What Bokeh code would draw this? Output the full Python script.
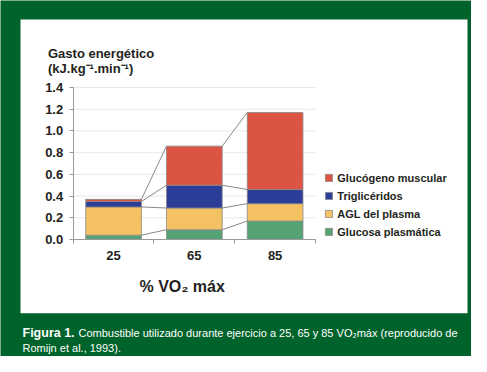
from bokeh.plotting import figure
from bokeh.models import (Range1d, FixedTicker, PrintfTickFormatter, LinearAxis,
                          BoxAnnotation, Label, Legend, LegendItem, ColumnDataSource)
from bokeh.embed import file_html
from bokeh.resources import INLINE

# ---- data ----
categories = ["25", "65", "85"]
glucosa = [0.04, 0.09, 0.17]
agl = [0.26, 0.20, 0.16]
trigliceridos = [0.05, 0.21, 0.13]
glucogeno = [0.02, 0.36, 0.71]
series_names = ["Glucosa plasmática", "AGL del plasma", "Triglicéridos", "Glucógeno muscular"]
y_ticks = [0.0, 0.2, 0.4, 0.6, 0.8, 1.0, 1.2, 1.4]

# ---- styling ----
colors = ["#55A275", "#F5C263", "#2B3D97", "#DC5543"]
GREEN = "#00632B"
TXT = "#231F20"
AX = "#9a9a9a"
FONT = "Liberation Sans"
W, H = 471, 356
OFF = 0          # observed offset between canvas coordinates and picture pixels
BAR_W = 0.69
n = len(categories)
YMAX = y_ticks[-1]

# chart area in picture pixels
PX_L, PX_R, PX_T, PX_B = 72.7, 315.0, 87.0, 239.0
kx = n / (PX_R - PX_L)
ky = YMAX / (PX_B - PX_T)
x_range = Range1d((OFF - PX_L) * kx, (OFF + W - PX_L) * kx)
y_range = Range1d(-(OFF + H - PX_B) * ky, (PX_B - OFF) * ky)

xpos = [i + 0.5 for i in range(n)]          # category centres

p = figure(width=W, height=H, x_range=x_range, y_range=y_range,
           output_backend="svg", toolbar_location=None,
           x_axis_location=None, y_axis_location=None,
           min_border=0, min_border_left=0, min_border_right=0, min_border_top=0, min_border_bottom=0)
p.outline_line_color = None
p.background_fill_color = GREEN
p.border_fill_color = GREEN
p.xgrid.visible = False
p.ygrid.visible = False

# screen helpers (picture pixel -> screen units, y up)
def sx(xr):
    return xr - OFF

def sy(yr):
    return H - (yr - OFF)

# white panel of the card
p.add_layout(BoxAnnotation(left=sx(20), right=sx(467), top=sy(19), bottom=sy(312.7),
                           left_units="screen", right_units="screen", top_units="screen", bottom_units="screen",
                           fill_color="white", fill_alpha=1, line_color=None, level="image"))

# horizontal grid lines at the y ticks, across the category span
p.segment(x0=[0] * len(y_ticks), x1=[n] * len(y_ticks), y0=y_ticks, y1=y_ticks,
          line_color="#e9e9e9", line_width=1)

# y axis
ya = LinearAxis(fixed_location=0, bounds=(0, YMAX), ticker=FixedTicker(ticks=y_ticks),
                formatter=PrintfTickFormatter(format="%.1f"),
                minor_tick_line_color=None, major_tick_in=0, major_tick_out=4,
                major_tick_line_color=AX, axis_line_color=AX, major_label_standoff=6,
                major_label_text_font=FONT, major_label_text_font_style="bold",
                major_label_text_font_size="13px", major_label_text_color=TXT)
p.add_layout(ya, "left")

# x axis: labels at category centres, ticks at category boundaries
xa = LinearAxis(fixed_location=0, bounds=(0, n),
                ticker=FixedTicker(ticks=xpos, minor_ticks=list(range(n + 1))),
                major_label_overrides={x: c for x, c in zip(xpos, categories)},
                major_tick_in=0, major_tick_out=0, minor_tick_in=0, minor_tick_out=4,
                minor_tick_line_color=AX, axis_line_color=AX, major_label_standoff=7,
                major_label_text_font=FONT, major_label_text_font_style="bold",
                major_label_text_font_size="13px", major_label_text_color=TXT)
p.add_layout(xa, "below")

# stacked bars
keys = ["glucosa", "agl", "trigliceridos", "glucogeno"]
source = ColumnDataSource(dict(x=xpos, glucosa=glucosa, agl=agl,
                               trigliceridos=trigliceridos, glucogeno=glucogeno))
renderers = p.vbar_stack(keys, x="x", width=BAR_W, fill_color=colors, line_color="#8a8a8a",
                         line_width=0.8, source=source)

# series (connector) lines between stacks
series = [glucosa, agl, trigliceridos, glucogeno]
cum = []
run = [0.0] * n
for s in series:
    run = [a + b for a, b in zip(run, s)]
    cum.append(run)
x0, x1, y0, y1 = [], [], [], []
for level in cum:
    for i in range(n - 1):
        x0.append(xpos[i] + BAR_W / 2)
        x1.append(xpos[i + 1] - BAR_W / 2)
        y0.append(level[i])
        y1.append(level[i + 1])
p.segment(x0=x0, y0=y0, x1=x1, y1=y1, line_color="#7a7a7a", line_width=0.9)

# legend
items = [LegendItem(label=name, renderers=[r]) for name, r in reversed(list(zip(series_names, renderers)))]
legend = Legend(items=items, location=(sx(324.3), sy(238)),
                glyph_width=9, glyph_height=9, label_height=13, label_width=10, spacing=5,
                label_standoff=4, padding=0, margin=0, border_line_color=None,
                background_fill_alpha=0, label_text_font=FONT, label_text_font_style="bold",
                label_text_font_size="11px", label_text_color=TXT)
p.add_layout(legend, "center")

# texts
def add_label(text, xr, yr, size, style="bold", color=TXT, align="left", font=FONT):
    p.add_layout(Label(x=sx(xr), y=sy(yr), x_units="screen", y_units="screen", text=text,
                       text_font=font, text_font_size=size, text_font_style=style,
                       text_color=color, text_align=align, text_baseline="alphabetic"))

add_label("Gasto energético", 47.5, 53, "13px")
add_label("(kJ.kg⁻¹.min⁻¹)", 47.5, 67.5, "13px")
add_label("% VO₂ máx", 181.7, 285.5, "16px", align="center")
add_label("Figura 1.", 22, 332, "12.5px", color="white")
add_label("Combustible utilizado durante ejercicio a 25, 65 y 85 VO₂máx (reproducido de",
          78, 332, "11px", style="normal", color="white")
add_label("Romijn et al., 1993).", 22, 347, "11px", style="normal", color="white")

open("out.html", "w").write(file_html(p, INLINE))
